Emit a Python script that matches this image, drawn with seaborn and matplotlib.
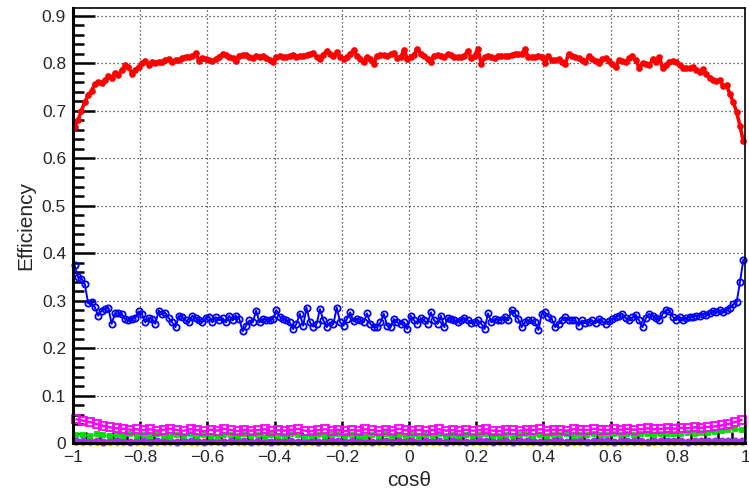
import numpy as np
import pandas as pd
import matplotlib
matplotlib.use('Agg')
import matplotlib.pyplot as plt
from matplotlib.ticker import MultipleLocator, FuncFormatter
import seaborn as sns

# %% data: efficiency vs cos(theta), 200 fine bins and 100 coarse bins
x_fine = np.round(np.linspace(-0.995, 0.995, 200), 3)
x_coarse = np.round(np.linspace(-0.99, 0.99, 100), 3)

eff_red = [
    0.665, 0.680, 0.700, 0.718, 0.732, 0.742, 0.755, 0.760, 0.758, 0.764,
    0.772, 0.769, 0.780, 0.776, 0.785, 0.795, 0.792, 0.778, 0.785, 0.792,
    0.800, 0.805, 0.797, 0.803, 0.801, 0.803, 0.802, 0.806, 0.808, 0.803,
    0.807, 0.806, 0.811, 0.813, 0.812, 0.814, 0.821, 0.805, 0.810, 0.809,
    0.806, 0.804, 0.808, 0.813, 0.819, 0.817, 0.813, 0.810, 0.804, 0.816,
    0.818, 0.817, 0.813, 0.811, 0.815, 0.812, 0.814, 0.811, 0.807, 0.803,
    0.813, 0.814, 0.812, 0.813, 0.815, 0.818, 0.812, 0.816, 0.815, 0.817,
    0.819, 0.822, 0.812, 0.809, 0.818, 0.826, 0.820, 0.814, 0.823, 0.812,
    0.809, 0.813, 0.820, 0.827, 0.815, 0.808, 0.802, 0.812, 0.808, 0.799,
    0.815, 0.818, 0.817, 0.815, 0.819, 0.821, 0.810, 0.812, 0.827, 0.809,
    0.813, 0.818, 0.830, 0.819, 0.815, 0.808, 0.803, 0.816, 0.818, 0.814,
    0.812, 0.819, 0.817, 0.813, 0.813, 0.812, 0.816, 0.826, 0.811, 0.816,
    0.830, 0.799, 0.812, 0.816, 0.813, 0.811, 0.814, 0.816, 0.815, 0.816,
    0.817, 0.820, 0.819, 0.820, 0.830, 0.813, 0.813, 0.813, 0.814, 0.812,
    0.800, 0.816, 0.806, 0.806, 0.808, 0.802, 0.799, 0.820, 0.814, 0.812,
    0.810, 0.806, 0.803, 0.814, 0.809, 0.805, 0.801, 0.809, 0.810, 0.804,
    0.798, 0.792, 0.806, 0.804, 0.803, 0.811, 0.814, 0.806, 0.790, 0.800,
    0.799, 0.795, 0.808, 0.803, 0.813, 0.789, 0.796, 0.803, 0.805, 0.803,
    0.796, 0.790, 0.789, 0.790, 0.792, 0.785, 0.782, 0.787, 0.778, 0.768,
    0.765, 0.762, 0.765, 0.751, 0.753, 0.735, 0.718, 0.697, 0.668, 0.635,
]

eff_blue = [
    0.374, 0.349, 0.346, 0.335, 0.294, 0.296, 0.286, 0.268, 0.279, 0.282,
    0.285, 0.251, 0.273, 0.273, 0.272, 0.261, 0.258, 0.261, 0.263, 0.277,
    0.272, 0.254, 0.263, 0.261, 0.251, 0.279, 0.272, 0.273, 0.263, 0.254,
    0.244, 0.268, 0.265, 0.258, 0.254, 0.268, 0.263, 0.258, 0.254, 0.263,
    0.266, 0.254, 0.265, 0.259, 0.263, 0.254, 0.268, 0.258, 0.268, 0.261,
    0.235, 0.247, 0.258, 0.254, 0.279, 0.254, 0.261, 0.259, 0.258, 0.261,
    0.280, 0.266, 0.261, 0.258, 0.254, 0.240, 0.251, 0.272, 0.247, 0.285,
    0.254, 0.245, 0.251, 0.282, 0.258, 0.244, 0.254, 0.251, 0.285, 0.254,
    0.247, 0.261, 0.275, 0.256, 0.261, 0.259, 0.254, 0.273, 0.251, 0.244,
    0.244, 0.254, 0.272, 0.247, 0.244, 0.261, 0.254, 0.251, 0.254, 0.240,
    0.268, 0.258, 0.251, 0.263, 0.258, 0.251, 0.275, 0.258, 0.251, 0.268,
    0.244, 0.263, 0.261, 0.258, 0.254, 0.259, 0.263, 0.258, 0.252, 0.254,
    0.258, 0.251, 0.240, 0.273, 0.254, 0.261, 0.259, 0.259, 0.266, 0.258,
    0.280, 0.273, 0.261, 0.244, 0.254, 0.258, 0.258, 0.254, 0.238, 0.272,
    0.275, 0.266, 0.261, 0.244, 0.251, 0.259, 0.265, 0.259, 0.258, 0.258,
    0.247, 0.258, 0.252, 0.254, 0.258, 0.252, 0.261, 0.256, 0.251, 0.256,
    0.261, 0.265, 0.268, 0.272, 0.263, 0.259, 0.265, 0.270, 0.258, 0.244,
    0.263, 0.272, 0.268, 0.263, 0.258, 0.272, 0.280, 0.279, 0.266, 0.259,
    0.266, 0.258, 0.263, 0.266, 0.265, 0.268, 0.268, 0.272, 0.270, 0.273,
    0.277, 0.275, 0.280, 0.275, 0.280, 0.285, 0.292, 0.296, 0.339, 0.386,
]

eff_magenta = [
    0.050, 0.047, 0.044, 0.040, 0.036, 0.033, 0.031, 0.030, 0.028, 0.029,
    0.027, 0.029, 0.026, 0.028, 0.030, 0.027, 0.026, 0.029, 0.027, 0.025,
    0.028, 0.026, 0.030, 0.027, 0.025, 0.028, 0.026, 0.027, 0.029, 0.025,
    0.027, 0.026, 0.028, 0.030, 0.026, 0.025, 0.027, 0.029, 0.026, 0.028,
    0.025, 0.027, 0.026, 0.029, 0.027, 0.025, 0.028, 0.026, 0.030, 0.027,
    0.026, 0.028, 0.025, 0.027, 0.029, 0.026, 0.027, 0.025, 0.028, 0.026,
    0.027, 0.029, 0.026, 0.025, 0.028, 0.027, 0.026, 0.028, 0.027, 0.029,
    0.026, 0.028, 0.027, 0.026, 0.029, 0.028, 0.027, 0.030, 0.028, 0.027,
    0.029, 0.028, 0.030, 0.028, 0.029, 0.031, 0.029, 0.030, 0.031, 0.030,
    0.032, 0.031, 0.033, 0.032, 0.034, 0.035, 0.037, 0.040, 0.044, 0.049,
]

eff_green = [
    0.016, 0.017, 0.015, 0.018, 0.016, 0.015, 0.017, 0.014, 0.019, 0.015,
    0.016, 0.014, 0.018, 0.015, 0.013, 0.017, 0.015, 0.020, 0.014, 0.016,
    0.015, 0.013, 0.017, 0.016, 0.014, 0.019, 0.015, 0.016, 0.013, 0.017,
    0.015, 0.014, 0.018, 0.016, 0.013, 0.015, 0.017, 0.014, 0.016, 0.019,
    0.014, 0.016, 0.015, 0.013, 0.017, 0.015, 0.018, 0.014, 0.016, 0.015,
    0.017, 0.013, 0.016, 0.015, 0.019, 0.014, 0.016, 0.015, 0.017, 0.014,
    0.016, 0.018, 0.015, 0.014, 0.017, 0.015, 0.016, 0.020, 0.015, 0.016,
    0.014, 0.017, 0.016, 0.018, 0.015, 0.017, 0.016, 0.019, 0.017, 0.016,
    0.018, 0.017, 0.019, 0.016, 0.018, 0.020, 0.017, 0.019, 0.018, 0.020,
    0.019, 0.021, 0.020, 0.022, 0.021, 0.023, 0.025, 0.028, 0.030, 0.027,
]

eff_purple = [
    0.004, 0.005, 0.004, 0.004, 0.003, 0.004, 0.005, 0.004, 0.003, 0.004,
    0.004, 0.003, 0.004, 0.005, 0.004, 0.003, 0.004, 0.004, 0.005, 0.003,
    0.004, 0.004, 0.003, 0.004, 0.005, 0.004, 0.003, 0.004, 0.004, 0.003,
    0.004, 0.005, 0.004, 0.003, 0.004, 0.004, 0.003, 0.005, 0.004, 0.004,
    0.003, 0.004, 0.004, 0.005, 0.003, 0.004, 0.004, 0.003, 0.004, 0.005,
    0.004, 0.003, 0.004, 0.004, 0.005, 0.003, 0.004, 0.004, 0.003, 0.004,
    0.005, 0.004, 0.003, 0.004, 0.004, 0.003, 0.005, 0.004, 0.004, 0.003,
    0.004, 0.004, 0.005, 0.003, 0.004, 0.004, 0.003, 0.004, 0.005, 0.004,
    0.003, 0.004, 0.004, 0.005, 0.004, 0.003, 0.004, 0.004, 0.005, 0.004,
    0.004, 0.003, 0.004, 0.005, 0.004, 0.004, 0.005, 0.004, 0.005, 0.005,
]

eff_yellow = [0.0005] * 100

# %% style (ROOT-like canvas)
sns.set_style("white")
plt.rcParams['font.family'] = ['Liberation Sans', 'DejaVu Sans']
plt.rcParams['axes.unicode_minus'] = True

fig = plt.figure(figsize=(7.49, 4.98), dpi=100)
ax = fig.add_axes([0.0975, 0.1104, 0.8972, 0.8735])

series = [
    (x_coarse, eff_yellow, '#ffe600', 'o', 3, True, 1.0),
    (x_coarse, eff_purple, '#a030f0', 'o', 4.5, True, 2.0),
    (x_coarse, eff_green, '#00dd00', 's', 3.5, True, 1.4),
    (x_coarse, eff_magenta, '#ff00ff', 's', 5.5, False, 1.8),
    (x_fine, eff_blue, '#0000ff', 'o', 4.5, False, 1.4),
    (x_fine, eff_red, '#ff0000', 'o', 3.5, True, 2.6),
]
for xs, ys, col, mk, ms, filled, lw in series:
    df = pd.DataFrame({'cos': xs, 'eff': ys})
    sns.lineplot(data=df, x='cos', y='eff', ax=ax, color=col, marker=mk,
                 markersize=ms, linewidth=lw, estimator=None, sort=True,
                 markerfacecolor=col if filled else 'none',
                 markeredgecolor=col, markeredgewidth=1.3, clip_on=False)

ax.set_xlim(-1, 1)
ax.set_ylim(0, 0.916)

ax.xaxis.set_major_locator(MultipleLocator(0.2))
ax.xaxis.set_minor_locator(MultipleLocator(0.04))
ax.yaxis.set_major_locator(MultipleLocator(0.1))
ax.yaxis.set_minor_locator(MultipleLocator(0.02))

fmt = FuncFormatter(lambda v, p: ('%g' % round(v, 2)).replace('-', '\u2212'))
ax.xaxis.set_major_formatter(fmt)
ax.yaxis.set_major_formatter(fmt)

ax.grid(True, which='major', color='#333333', linestyle=(0, (1, 2.2)), linewidth=0.9)
ax.tick_params(axis='both', which='both', direction='in', left=True, bottom=True,
               right=False, top=False, labelsize=12.5, width=1.8, color='black')
ax.tick_params(axis='both', which='major', length=16, pad=5)
ax.tick_params(axis='both', which='minor', length=8)

for side in ['top', 'right']:
    ax.spines[side].set_linewidth(1.2)
    ax.spines[side].set_color('black')
for side in ['left', 'bottom']:
    ax.spines[side].set_linewidth(2.2)
    ax.spines[side].set_color('black')

ax.set_xlabel('cos\u03b8', fontsize=15, labelpad=4)
ax.set_ylabel('Efficiency', fontsize=15, labelpad=5)
ax.set_axisbelow(True)

fig.savefig('out.png', dpi=100)
